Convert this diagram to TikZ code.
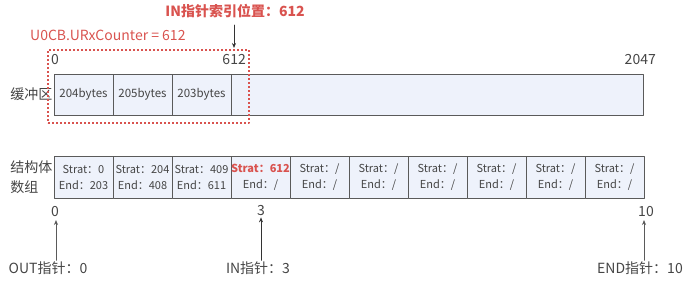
\documentclass[tikz,border=0pt]{standalone}
\usepackage{fontspec}
\setmainfont{Noto Sans CJK SC}
\usetikzlibrary{arrows.meta}
\definecolor{cellfill}{HTML}{EEF2FB}
\definecolor{markred}{HTML}{D9534F}
\definecolor{txtgray}{HTML}{454545}
\definecolor{linegray}{HTML}{5A5A5A}
\tikzset{
  bufcell/.style={draw=linegray,line width=0.8pt,fill=cellfill,minimum width=59,minimum height=41,inner sep=0pt,
    text=txtgray,font=\fontsize{11.5}{13}\selectfont},
  arrcell/.style={draw=linegray,line width=0.8pt,fill=cellfill,minimum width=59,minimum height=42,inner sep=0pt,
    text=txtgray,align=center,font=\fontsize{11}{16}\selectfont},
  lbl/.style={text=txtgray,inner sep=1pt,font=\fontsize{14}{16}\selectfont},
  ptr/.style={-{Stealth[length=5pt,width=4pt]},line width=0.7pt,draw=linegray}
}
\begin{document}
\begin{tikzpicture}[x=1pt,y=-1pt,line cap=round,line join=round]
  \useasboundingbox (0,0) rectangle (692,282);
  % buffer
  \node[bufcell,minimum width=589] (buf) at (348.5,94.5) {};
  \node[bufcell] (b1) at (83.5,94.5) {204bytes};
  \node[bufcell] (b2) at (142.5,94.5) {205bytes};
  \node[bufcell] (b3) at (201.5,94.5) {203bytes};
  \node[lbl,anchor=east] (bufname) at (buf.west) {缓冲区};
  \node[lbl] (n0) at (55,60) {0};
  \node[lbl,anchor=east] (n612) at (247,60) {612};
  \node[lbl,anchor=east] (n2047) at (657,60) {2047};
  % window of received bytes
  \node[draw=markred,dash pattern=on 2pt off 2pt,line cap=butt,line width=1.2pt,minimum width=201,minimum height=73,inner sep=0pt] (win) at (148.5,86.5) {};
  \node[text=markred,anchor=west,inner sep=0pt,font=\fontsize{14}{16}\selectfont] (cnt) at (30,35) {U0CB.URxCounter = 612};
  \node[text=markred,inner sep=0pt,font=\fontsize{14}{16}\bfseries\selectfont] (inpos) at (235,11) {IN指针索引位置：612};
  \draw[ptr,draw=black!80] (234,25) -- (234,48);
  % struct array
  \node[arrcell] (s0) at (83.5,177.5) {Strat：0\\End：203};
  \node[arrcell] (s1) at (142.5,177.5) {Strat：204\\End：408};
  \node[arrcell] (s2) at (201.5,177.5) {Strat：409\\End：611};
  \node[arrcell] (s3) at (260.5,177.5) {\textcolor{markred}{\bfseries Strat：612}\\End：/};
  \foreach \i in {4,...,9}
    \node[arrcell] (s\i) at ({83.5+59*\i},177.5) {Strat：/\\End：/};
  \node[lbl,anchor=east,align=left,font=\fontsize{14}{20}\selectfont] (arrname) at (s0.west) {结构体\\数组};
  \node[lbl] (i0) at (55,212) {0};
  \node[lbl] (i3) at (261,211) {3};
  \node[lbl] (i10) at (646,212) {10};
  % pointers
  \node[lbl] (p0) at (48,268) {OUT指针：0};
  \node[lbl] (p3) at (258,268) {IN指针：3};
  \node[lbl] (p10) at (640,268) {END指针：10};
  \draw[ptr] (p0.north -| 56,0) -- (56,220);
  \draw[ptr,draw=black!80] (p3.north -| i3) -- (i3.south);
  \draw[ptr] (p10.north -| 644,0) -- (644,220);
\end{tikzpicture}
\end{document}
